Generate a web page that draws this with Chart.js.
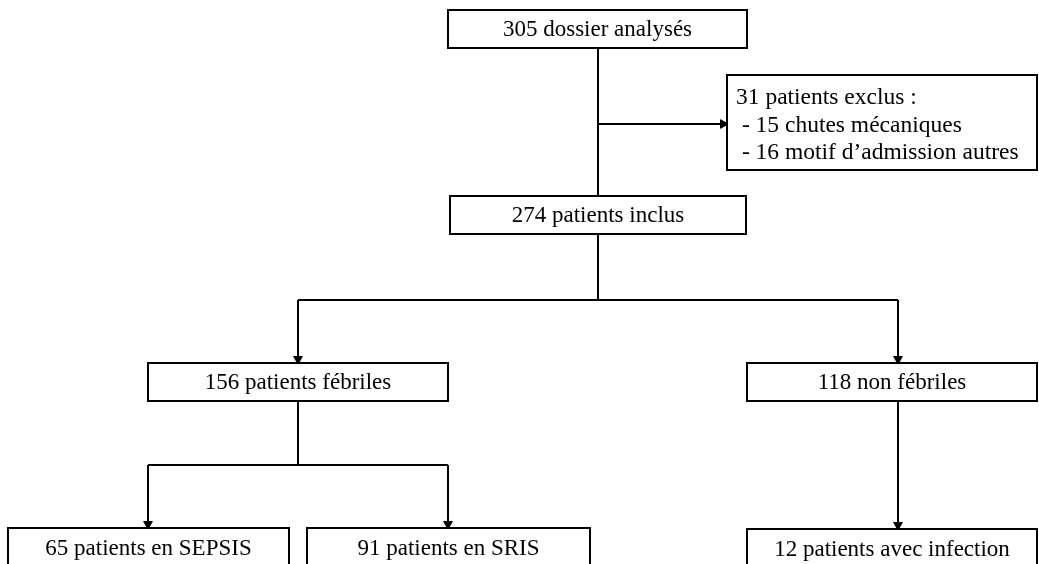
<!DOCTYPE html>
<html>
<head>
<meta charset="utf-8">
<script src="https://cdn.jsdelivr.net/npm/chart.js@4.4.1/dist/chart.umd.min.js"></script>
<style>
  html, body { margin: 0; padding: 0; background: #fff; }
  #wrap { width: 1039px; height: 564px; }
</style>
</head>
<body>
<div id="wrap"><canvas id="flow" width="1039" height="564"></canvas></div>
<script>
// flowchart nodes, in the 1039 x 564 layout grid
const nodeLabels = [
  ['305 dossier analysés'],
  ['31 patients exclus :', ' - 15 chutes mécaniques', ' - 16 motif d\u2019admission autres'],
  ['274 patients inclus'],
  ['156 patients fébriles'],
  ['118 non fébriles'],
  ['65 patients en SEPSIS'],
  ['91 patients en SRIS'],
  ['12 patients avec infection']
];
const nodeLeft   = [448, 727, 450, 148, 747, 8,   307, 747];
const nodeTop    = [10,  75,  196, 363, 363, 528, 528, 529];
const nodeRight  = [747, 1037, 746, 448, 1037, 289, 590, 1037];
const nodeBottom = [48,  170, 234, 401, 401, 600, 600, 600];
const nodeAlign  = ['center', 'left', 'center', 'center', 'center', 'center', 'center', 'center'];

// connector polylines
const connectors = [
  [{x: 598, y: 48}, {x: 598, y: 196}],
  [{x: 598, y: 124}, {x: 722, y: 124}],
  [{x: 598, y: 234}, {x: 598, y: 300}],
  [{x: 298, y: 300}, {x: 898, y: 300}],
  [{x: 298, y: 300}, {x: 298, y: 358}],
  [{x: 898, y: 300}, {x: 898, y: 358}],
  [{x: 298, y: 401}, {x: 298, y: 465}],
  [{x: 148, y: 465}, {x: 448, y: 465}],
  [{x: 148, y: 465}, {x: 148, y: 523}],
  [{x: 448, y: 465}, {x: 448, y: 523}],
  [{x: 898, y: 401}, {x: 898, y: 524}]
];
// arrow heads
const arrowDown = [{x: 298, y: 359}, {x: 898, y: 359}, {x: 148, y: 524}, {x: 448, y: 524}, {x: 898, y: 525}];
const arrowRight = [{x: 723, y: 124}];

const boxPlugin = {
  id: 'boxes',
  afterDatasetsDraw(chart) {
    const ctx = chart.ctx;
    const xs = chart.scales.x, ys = chart.scales.y;
    ctx.save();
    ctx.strokeStyle = '#000';
    ctx.lineWidth = 2;
    ctx.textBaseline = 'middle';
    nodeLabels.forEach((lines, i) => {
      const l = xs.getPixelForValue(nodeLeft[i]);
      const r = xs.getPixelForValue(nodeRight[i]);
      const t = ys.getPixelForValue(nodeTop[i]);
      const b = ys.getPixelForValue(nodeBottom[i]);
      ctx.fillStyle = '#fff';
      ctx.fillRect(l, t, r - l, b - t);
      ctx.strokeRect(l, t, r - l, b - t);
      ctx.fillStyle = '#000';
      if (nodeAlign[i] === 'left') {
        ctx.font = '23.5px "Liberation Serif", "Times New Roman", serif';
        ctx.textAlign = 'left';
        lines.forEach((s, k) => ctx.fillText(s, l + 9, t + 23 + k * 27.5));
      } else {
        ctx.font = '23px "Liberation Serif", "Times New Roman", serif';
        ctx.textAlign = 'center';
        const cy = nodeBottom[i] > 564 ? t + 21 : (t + b) / 2 + 1;
        lines.forEach((s) => ctx.fillText(s, (l + r) / 2, cy));
      }
    });
    ctx.restore();
  }
};

const datasets = connectors.map(pts => ({
  type: 'line',
  data: pts,
  borderColor: '#000',
  borderWidth: 2,
  pointRadius: 0,
  fill: false
}));
datasets.push({
  type: 'scatter',
  data: arrowDown,
  pointStyle: 'triangle',
  rotation: 180,
  radius: 5,
  backgroundColor: '#000',
  borderColor: '#000',
  borderWidth: 1
});
datasets.push({
  type: 'scatter',
  data: arrowRight,
  pointStyle: 'triangle',
  rotation: 90,
  radius: 5,
  backgroundColor: '#000',
  borderColor: '#000',
  borderWidth: 1
});

new Chart(document.getElementById('flow'), {
  type: 'line',
  data: { datasets },
  options: {
    responsive: false,
    animation: false,
    layout: { padding: 0, autoPadding: false },
    plugins: { legend: { display: false }, tooltip: { enabled: false } },
    scales: {
      x: { type: 'linear', min: 0, max: 1039, display: false },
      y: { type: 'linear', min: 0, max: 564, reverse: true, display: false }
    },
    events: []
  },
  plugins: [boxPlugin]
});
</script>
</body>
</html>
